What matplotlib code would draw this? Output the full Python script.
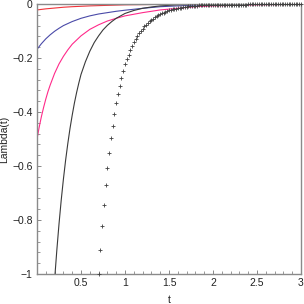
import numpy as np
import matplotlib
matplotlib.use('Agg')
import matplotlib.pyplot as plt

plt.rcParams['font.family'] = ['Liberation Sans', 'DejaVu Sans']

# solid curves (t, Lambda(t))
red_t = [0, 0.1, 0.2, 0.3, 0.4, 0.6, 0.8, 1.0, 1.5, 2.0, 3.0]
red_y = [-0.022, -0.018, -0.015, -0.012, -0.010, -0.007, -0.005, -0.003, -0.001, -0.0005, 0.0]

blue_t = [0, 0.05, 0.1, 0.15, 0.2, 0.25, 0.3, 0.4, 0.5, 0.6, 0.7, 0.8, 0.9, 1.0, 1.2, 1.4,
          1.6, 1.8, 2.0, 2.5, 3.0]
blue_y = [-0.168, -0.147, -0.129, -0.114, -0.101, -0.090, -0.080, -0.065, -0.053, -0.044,
          -0.037, -0.032, -0.027, -0.023, -0.016, -0.010, -0.007, -0.004, -0.003, -0.001,
          -0.0005]

magenta_t = [0, 0.025, 0.05, 0.075, 0.1, 0.125, 0.15, 0.2, 0.25, 0.3, 0.35, 0.4, 0.5, 0.6,
             0.7, 0.8, 0.9, 1.0, 1.2, 1.4, 1.6, 1.8, 2.0, 2.5, 3.0]
magenta_y = [-0.5, -0.456, -0.417, -0.383, -0.352, -0.324, -0.300, -0.257, -0.222, -0.194,
             -0.170, -0.149, -0.118, -0.094, -0.077, -0.063, -0.053, -0.044, -0.032, -0.022,
             -0.016, -0.010, -0.007, -0.003, -0.001]

black_t = [0.205, 0.225, 0.25, 0.275, 0.30, 0.325, 0.35, 0.375, 0.40, 0.425, 0.45, 0.475,
           0.50, 0.55, 0.60, 0.65, 0.70, 0.75, 0.80, 0.85, 0.90, 1.0, 1.1, 1.2, 1.3, 1.4,
           1.6, 1.8, 2.0, 2.5, 3.0]
black_y = [-1.0, -0.913, -0.815, -0.727, -0.649, -0.579, -0.517, -0.461, -0.412, -0.367,
           -0.328, -0.293, -0.261, -0.214, -0.175, -0.143, -0.118, -0.096, -0.079, -0.065,
           -0.053, -0.035, -0.024, -0.016, -0.011, -0.007, -0.003, -0.0015, -0.001, -0.0003,
           0.0]

# point series, one value every 0.02 starting at t = 0.70
dot_t0 = 0.70
dot_dt = 0.02
dot_y = [-1.000, -0.910, -0.822, -0.743, -0.672, -0.607, -0.550, -0.497, -0.450, -0.407,
         -0.368, -0.334, -0.302, -0.273, -0.247, -0.222, -0.204, -0.190, -0.172, -0.155,
         -0.142, -0.130, -0.118, -0.108, -0.099, -0.091, -0.083, -0.076, -0.070, -0.064,
         -0.059, -0.054, -0.049, -0.045, -0.041, -0.038, -0.035, -0.032, -0.029, -0.027,
         -0.024, -0.022, -0.020, -0.019, -0.017, -0.016, -0.014, -0.013, -0.012, -0.011,
         -0.010, -0.009, -0.008, -0.008, -0.007, -0.006, -0.006, -0.005, -0.005, -0.005,
         -0.004, -0.004, -0.004, -0.004, -0.004, -0.003, -0.003, -0.003, -0.003, -0.003,
         -0.003, -0.003, -0.003, -0.002, -0.002, -0.002, -0.002, -0.002, -0.002, -0.002,
         -0.002, -0.002, -0.002, -0.002, -0.002, -0.001, -0.001, -0.001, -0.001, -0.001,
         -0.001, -0.001, -0.001, -0.001, -0.001, -0.001, -0.001, -0.001, -0.001, -0.001,
         -0.001, -0.001, -0.001, -0.001, -0.001, -0.001, -0.001, -0.001, -0.001, -0.001,
         -0.001, -0.001, -0.001, -0.001, -0.001, -0.001]
dot_t = dot_t0 + dot_dt * np.arange(len(dot_y))

x_ticks = [0.5, 1, 1.5, 2, 2.5, 3]
x_labels = ['0.5', '1', '1.5', '2', '2.5', '3']
y_ticks = [0, -0.2, -0.4, -0.6, -0.8, -1]
y_labels = ['0', '\u22120.2', '\u22120.4', '\u22120.6', '\u22120.8', '\u22121']

fig = plt.figure(figsize=(3.04, 3.04), dpi=100)
ax = fig.add_axes([37 / 304, 30 / 304, 264 / 304, 270 / 304])

ax.plot(red_t, red_y, color='#f0333a', linewidth=0.8)
ax.plot(blue_t, blue_y, color='#4a4aa8', linewidth=0.8)
ax.plot(magenta_t, magenta_y, color='#ff2a8a', linewidth=0.8)
ax.plot(black_t, black_y, color='#3a3a3a', linewidth=0.8)
ax.plot(dot_t, dot_y, linestyle='none', marker='+', markersize=2.2,
        markeredgewidth=0.6, color='#404040', clip_on=False, zorder=4)

ax.set_xlim(0, 3)
ax.set_ylim(-1, 0)
ax.set_xticks(x_ticks)
ax.set_xticklabels(x_labels)
ax.set_yticks(y_ticks)
ax.set_yticklabels(y_labels)
ax.set_xticks(np.arange(0, 3.01, 0.1), minor=True)
ax.set_yticks(np.arange(-1, 0.001, 0.04), minor=True)
ax.tick_params(which='major', direction='in', length=3, width=0.7, color='#888888',
               labelsize=7.5, pad=3, labelcolor='#222222')
ax.tick_params(which='minor', direction='in', length=2, width=0.6, color='#888888')

for s in ax.spines.values():
    s.set_color('#8a8a8a')
    s.set_linewidth(1.0)

ax.set_xlabel('t', fontsize=7.5, labelpad=5, color='#222222')
ax.set_ylabel('Lambda(t)', fontsize=7.5, labelpad=2, color='#222222')

fig.savefig('out.png', dpi=100)
